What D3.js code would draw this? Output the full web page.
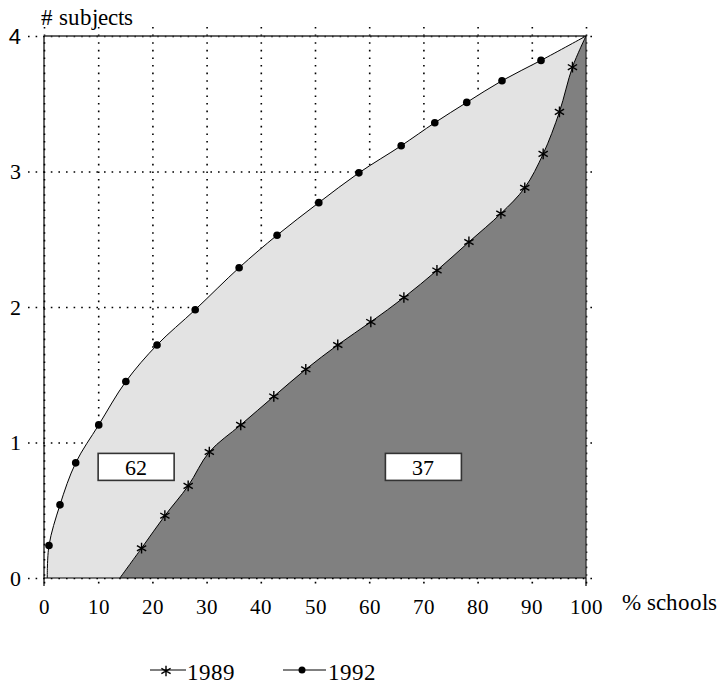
<!DOCTYPE html>
<html>
<head>
<meta charset="utf-8">
<script src="https://cdn.jsdelivr.net/npm/d3@7"></script>
<style>
  @font-face { font-family: 'ChartSerif'; src: local('Liberation Serif'), local('LiberationSerif'), local('Liberation Serif Regular'), local('Tinos'); }
  body { margin: 0; }
  svg text { font-family: 'ChartSerif', 'Liberation Serif', 'Tinos', 'Times New Roman', serif; }
  svg text.sans { font-family: 'Liberation Sans', Arial, sans-serif; }
</style>
</head>
<body>
<script>
// values: x = % schools, y = # subjects
const x1992 = [0.6, 0.92, 2.95, 5.85, 10.1, 15.1, 20.85, 27.9, 36.0, 43.0, 50.7, 58.1, 65.9, 72.1, 78.0, 84.5, 91.7, 100];
const y1992 = [0, 0.24, 0.54, 0.85, 1.13, 1.45, 1.72, 1.98, 2.29, 2.53, 2.77, 2.99, 3.19, 3.36, 3.51, 3.67, 3.82, 4];
const x1989 = [14.0, 18.0, 22.3, 26.6, 30.5, 36.3, 42.4, 48.3, 54.2, 60.3, 66.4, 72.5, 78.4, 84.3, 88.7, 92.1, 95.1, 97.5, 100];
const y1989 = [0, 0.22, 0.46, 0.68, 0.93, 1.13, 1.34, 1.54, 1.72, 1.89, 2.07, 2.27, 2.48, 2.69, 2.88, 3.13, 3.44, 3.77, 4];
const xTicks = [0, 10, 20, 30, 40, 50, 60, 70, 80, 90, 100];
const yTicks = [0, 1, 2, 3, 4];
const areaLabels = ['62', '37'];
const seriesNames = ['1989', '1992'];

const W = 718, H = 684;
const margin = { top: 36, right: 132, bottom: 106, left: 44 };

const svg = d3.select('body').append('svg')
  .attr('width', W)
  .attr('height', H)
  .style('display', 'block');

svg.append('rect').attr('width', W).attr('height', H).attr('fill', '#fff');

const x = d3.scaleLinear().domain([0, 100]).range([margin.left, W - margin.right]);
const y = d3.scaleLinear().domain([0, 4]).range([H - margin.bottom, margin.top]);

const d1992 = x1992.map((v, i) => ({ x: v, y: y1992[i] }));
const d1989 = x1989.map((v, i) => ({ x: v, y: y1989[i] }));

// dotted grid, drawn as axes so the tick labels come with it
const gridRight = x(100) + 6;
const gridLeft = x(0) - 18;
const gridTop = y(4) - 9;
const gridBottom = y(0) + 8;

const yAxis = svg.append('g')
  .attr('transform', `translate(${gridRight},0)`)
  .call(d3.axisLeft(y).tickValues(yTicks).tickFormat(d3.format('d'))
    .tickSize(gridRight - gridLeft).tickPadding(5).tickSizeOuter(0));
yAxis.attr('font-family', null);
yAxis.select('.domain').remove();
yAxis.selectAll('line').attr('stroke', '#000').attr('stroke-width', 1.6).attr('stroke-dasharray', '1.6,6');
yAxis.selectAll('text').attr('fill', '#000').attr('font-size', 22)
  .classed('sans', d => d === 4);

const xAxis = svg.append('g')
  .attr('transform', `translate(0,${gridTop})`)
  .call(d3.axisBottom(x).tickValues(xTicks).tickFormat(d3.format('d'))
    .tickSize(gridBottom - gridTop).tickPadding(13).tickSizeOuter(0));
xAxis.attr('font-family', null);
xAxis.select('.domain').remove();
xAxis.selectAll('line').attr('stroke', '#000').attr('stroke-width', 1.6).attr('stroke-dasharray', '1.6,6');
xAxis.selectAll('text').attr('fill', '#000').attr('font-size', 21);

// filled regions
const curve = d3.line().x(d => x(d.x)).y(d => y(d.y)).curve(d3.curveCatmullRom);

svg.append('path')
  .attr('d', curve(d1992) + `L${x(100)},${y(0)}L${x(x1992[0])},${y(0)}Z`)
  .attr('fill', '#e3e3e3');

svg.append('path')
  .attr('d', curve(d1989) + `L${x(100)},${y(0)}L${x(x1989[0])},${y(0)}Z`)
  .attr('fill', '#808080');

// frame
svg.append('path')
  .attr('d', `M${x(0)},${y(4)}H${x(100)}V${y(0)}`)
  .attr('fill', 'none')
  .attr('stroke', '#333')
  .attr('stroke-width', 1.3);
svg.append('path')
  .attr('d', `M${x(0)},${y(4)}V${y(0)}H${x(100)}`)
  .attr('fill', 'none')
  .attr('stroke', '#000')
  .attr('stroke-width', 1.2);
svg.append('g').selectAll('line')
  .data([0, 100])
  .enter().append('line')
  .attr('x1', d => x(d)).attr('x2', d => x(d))
  .attr('y1', y(0)).attr('y2', y(0) + 8)
  .attr('stroke', '#000').attr('stroke-width', 1.2);

// curves
svg.append('path').datum(d1992)
  .attr('d', curve)
  .attr('fill', 'none').attr('stroke', '#000').attr('stroke-width', 1);
svg.append('path').datum(d1989)
  .attr('d', curve)
  .attr('fill', 'none').attr('stroke', '#000').attr('stroke-width', 1);

// markers
const star = d3.symbol().type(d3.symbolAsterisk).size(80);

svg.selectAll('.dot-1992')
  .data(d1992.slice(1, -1))
  .enter().append('circle')
  .attr('class', 'dot-1992')
  .attr('cx', d => x(d.x))
  .attr('cy', d => y(d.y))
  .attr('r', 3.8)
  .attr('fill', '#000');

svg.selectAll('.star-1989')
  .data(d1989.slice(1, -1))
  .enter().append('path')
  .attr('class', 'star-1989')
  .attr('transform', d => `translate(${x(d.x)},${y(d.y)})`)
  .attr('d', star)
  .attr('fill', 'none')
  .attr('stroke', '#000')
  .attr('stroke-width', 1.4);

// value boxes
const boxes = [{ cx: 17, cy: 0.82 }, { cx: 70, cy: 0.82 }];
boxes.forEach((b, i) => {
  const g = svg.append('g').attr('transform', `translate(${x(b.cx)},${y(b.cy)})`);
  g.append('rect')
    .attr('x', -38).attr('y', -13.5)
    .attr('width', 76).attr('height', 27)
    .attr('fill', '#fff')
    .attr('stroke', '#333')
    .attr('stroke-width', 1.6);
  g.append('text')
    .attr('text-anchor', 'middle')
    .attr('y', 8)
    .attr('font-size', 22)
    .text(areaLabels[i]);
});

// axis titles
svg.append('text')
  .attr('x', 41).attr('y', 25)
  .attr('font-size', 23)
  .text('# subjects');
svg.append('text')
  .attr('x', 622).attr('y', 610)
  .attr('font-size', 23)
  .text('% schools');

// legend
const legY = 670;
const leg1 = svg.append('g');
leg1.append('line').attr('x1', 150).attr('x2', 186).attr('y1', legY).attr('y2', legY).attr('stroke', '#000');
leg1.append('path').attr('transform', `translate(166,${legY + 1})`).attr('d', star)
  .attr('fill', 'none').attr('stroke', '#000').attr('stroke-width', 1.4);
leg1.append('text').attr('x', 187).attr('y', legY + 10).attr('font-size', 23).text(seriesNames[0]);

const leg2 = svg.append('g');
leg2.append('line').attr('x1', 283).attr('x2', 326).attr('y1', legY).attr('y2', legY).attr('stroke', '#000');
leg2.append('circle').attr('cx', 302).attr('cy', legY).attr('r', 3.5).attr('fill', '#000');
leg2.append('text').attr('x', 328).attr('y', legY + 10).attr('font-size', 23).text(seriesNames[1]);
</script>
</body>
</html>
